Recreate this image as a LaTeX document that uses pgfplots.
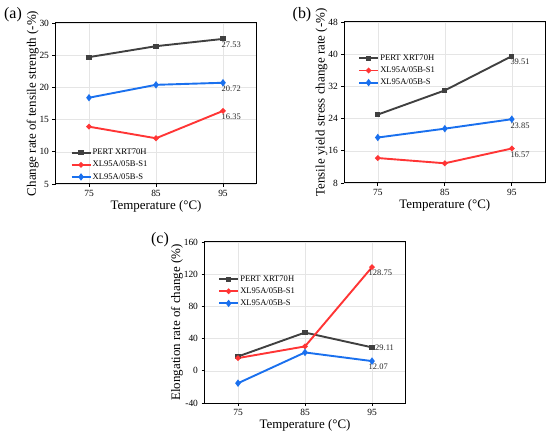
\documentclass[border=0pt]{standalone}
\usepackage{fontspec}
\setmainfont{Liberation Serif}
\usepackage{pgfplots}
\pgfplotsset{compat=1.18}
\definecolor{cgray}{HTML}{404040}
\definecolor{cred}{HTML}{FF3535}
\definecolor{cblue}{HTML}{1A70EE}
\tikzset{vlab/.style={font=\fontsize{8.5}{9}\selectfont, text=black!85, inner sep=0.5bp}}
\pgfplotsset{
  myax/.style={
    scale only axis, width=201bp, height=161bp,
    xmin=70, xmax=100, xtick={75,85,95},
    tick align=outside, xtick pos=left, ytick pos=left,
    grid=major, grid style={black!10, line width=0.5bp},
    axis line style={line width=1bp},
    major tick length=3bp, tick style={black, line width=0.8bp},
    tick label style={font=\fontsize{9.5}{10}\selectfont},
    label style={font=\fontsize{13}{14}\selectfont},
    /pgf/number format/assume math mode=true,
    xlabel={Temperature (°C)},
    xlabel style={yshift=3bp},
    ylabel style={yshift=-6bp},
    every axis plot/.append style={line width=1.9bp},
    legend style={draw=none, fill=none, font=\fontsize{8.6}{9}\selectfont,
      anchor=north west, inner sep=0pt, row sep=2.5bp,
      nodes={inner sep=1.2bp}},
    legend cell align=left,
    legend image code/.code={%
      \draw (0bp,0bp) -- (19bp,0bp);
      \draw plot coordinates {(9.5bp,0bp)};},
  },
  pert/.style={cgray, mark=square*, mark size=1.6bp},
  sone/.style={cred, mark=*, mark size=1.7bp},
  ses/.style={cblue, mark=diamond*, mark size=2.2bp},
}
\begin{document}
\begin{tikzpicture}
\path[use as bounding box] (0,0) rectangle (550bp,438bp);
% (a)
\begin{axis}[myax, at={(55.5bp,254bp)}, anchor=south west,
  ymin=5, ymax=30, ytick={5,10,15,20,25,30},
  ylabel={Change rate of tensile strength (-\%)},
  legend style={at={(axis description cs:0.074,0.225)}}]
\addplot[pert] coordinates {(75,24.7) (85,26.4) (95,27.53)};
\addplot[sone] coordinates {(75,13.9) (85,12.1) (95,16.35)};
\addplot[ses] coordinates {(75,18.4) (85,20.4) (95,20.72)};
\legend{PERT XRT70H, XL95A/05B-S1, XL95A/05B-S}
\node[vlab, anchor=north west] at (axis cs:95,27.53) [xshift=-2bp,yshift=-2.5bp] {27.53};
\node[vlab, anchor=north west] at (axis cs:95,20.72) [xshift=-2bp,yshift=-2.5bp] {20.72};
\node[vlab, anchor=north west] at (axis cs:95,16.35) [xshift=-2bp,yshift=-2.5bp] {16.35};
\end{axis}
% (b)
\begin{axis}[myax, at={(344.3bp,255bp)}, anchor=south west,
  ymin=8, ymax=48, ytick={8,16,24,32,40,48},
  ylabel={Tensile yield stress change rate (-\%)},
  legend style={at={(axis description cs:0.068,0.805)}}]
\addplot[pert] coordinates {(75,25.0) (85,31.0) (95,39.51)};
\addplot[sone] coordinates {(75,14.2) (85,12.9) (95,16.57)};
\addplot[ses] coordinates {(75,19.3) (85,21.5) (95,23.85)};
\legend{PERT XRT70H, XL95A/05B-S1, XL95A/05B-S}
\node[vlab, anchor=north west] at (axis cs:95,39.51) [xshift=-2bp,yshift=-2.5bp] {39.51};
\node[vlab, anchor=north west] at (axis cs:95,23.85) [xshift=-2bp,yshift=-2.5bp] {23.85};
\node[vlab, anchor=north west] at (axis cs:95,16.57) [xshift=-2bp,yshift=-2.5bp] {16.57};
\end{axis}
% (c)
\begin{axis}[myax, at={(204.5bp,35bp)}, anchor=south west,
  ymin=-40, ymax=160, ytick={-40,0,40,80,120,160},
  ylabel={Elongation rate of change (\%)},
  legend style={at={(axis description cs:0.067,0.80)}}]
\addplot[pert] coordinates {(75,17.8) (85,47.5) (95,29.11)};
\addplot[sone] coordinates {(75,15.8) (85,30.3) (95,128.75)};
\addplot[ses] coordinates {(75,-15.4) (85,22.8) (95,12.07)};
\legend{PERT XRT70H, XL95A/05B-S1, XL95A/05B-S}
\node[vlab, anchor=west] at (axis cs:95,29.11) [xshift=2.5bp] {29.11};
\node[vlab, anchor=north west] at (axis cs:95,128.75) [xshift=-4bp,yshift=-2.5bp] {128.75};
\node[vlab, anchor=north west] at (axis cs:95,12.07) [xshift=-4bp,yshift=-2.5bp] {12.07};
\end{axis}
\node[font=\fontsize{16}{17}\selectfont] at (13bp,423bp) {(a)};
\node[font=\fontsize{16}{17}\selectfont] at (302bp,423bp) {(b)};
\node[font=\fontsize{16}{17}\selectfont] at (160bp,198bp) {(c)};
\end{tikzpicture}
\end{document}
